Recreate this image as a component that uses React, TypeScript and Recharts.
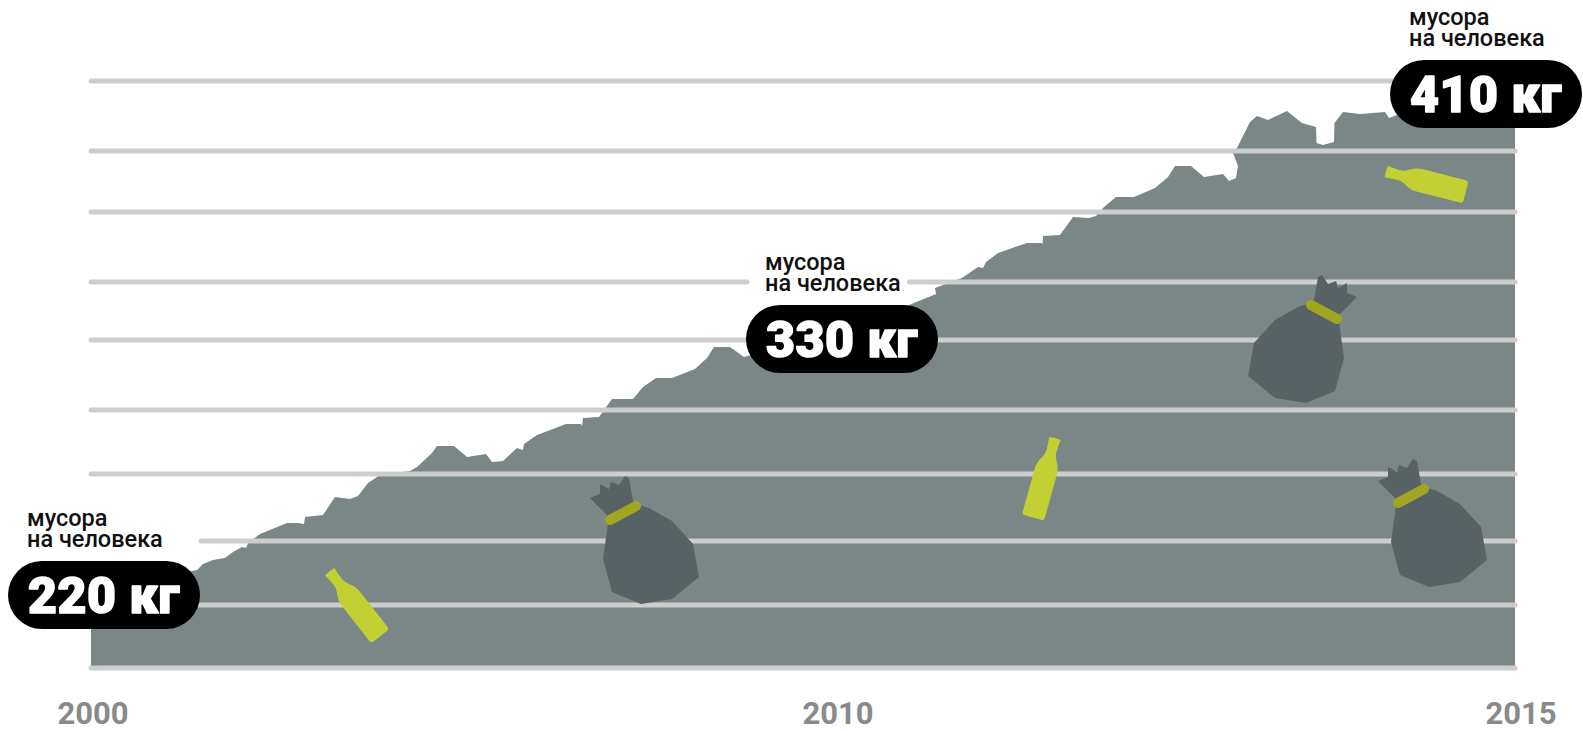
import React from "react";
import { AreaChart, Area, XAxis, YAxis, ReferenceLine, ReferenceDot } from "recharts";

// Position along the (non-uniform) time axis, and kilograms of waste per person.
const positions = [0,106,112,122,134,142,151,155,157,169,196,207,213,214,232,244,259,267,277,289,319,326,341,346,363,376,395,401,412,426,432,433,446,462,475,490,491,492,508,521,542,552,565,581,604,616,623,639,653,679,749,818,845,844,871,887,892,895,907,936,951,951.5,952,969,982,998,1005,1013,1025,1043,1064,1077,1084,1100,1113,1132,1138,1145,1147,1142,1146,1159,1166,1177,1196,1211,1225,1225.5,1232,1243,1243.5,1252,1269,1294,1298,1306,1359,1424];
const kilograms = [211.2,219.2,221.6,223.2,224,226.4,228.4,228,230,233.6,238,238,237.6,240.4,241.2,248.4,247.6,248.8,254,257.2,258.8,260.4,266,268.8,268.8,264.4,265.6,262.4,262.8,268,267.2,269.6,273.2,275.6,277.6,277.6,276.8,280,280.4,287.6,287.6,292.4,296,296,299.6,304,308.4,308.4,304.4,307.2,315.2,325.2,329.6,332,336,340.4,340,342.4,346,350,350,349.2,352.8,353.2,360.4,360,360.8,364.4,368.4,368.4,372,376.4,380.8,380.8,376.4,377.6,374.8,376,380.8,386,388,398.4,400.8,399.2,402.8,398,396.4,390,389.2,390.4,398,402.4,401.6,402.4,400,401.2,404,407.2];

const gridLevels = [414.8, 386.8, 362.4, 311.2, 283.2, 257.6, 205.2, 180];
const brokenLevelA = 334.4;
const brokenLevelB = 230.8;

const tickPositions = [2, 747, 1424];
const tickLabels = ["2000", "2010", "2015"];

const calloutPositions = [13, 751, 1395];
const calloutLevels = [209.2, 311.6, 409.6];
const calloutValues = ["220 кг", "330 кг", "410 кг"];
const calloutLine1 = "мусора";
const calloutLine2 = "на человека";

const bagPositions = [556, 1344, 1209];
const bagLevels = [230, 236.8, 310.4];
const bagFlip = [1, 1, -1];

const bottlePositions = [264, 1335, 953];
const bottleLevels = [205.6, 374.4, 256];
const bottleAngles = [-38, -75.6, 15.5];

const AREA = "#7b8787";
const GRID = "#cdcdcd";
const BAG = "#586164";
const BAND = "#a0a622";
const BOTTLE = "#c2d034";
const FONT = "Roboto, sans-serif";

const data = positions.map((pos, i) => ({ pos, kg: kilograms[i] }));

const BAG_PATH =
  "M-57,-45 L-47,-49 L-47,-59 L-38,-54 L-36,-61 L-28,-58 L-22,-67 L-18,-65 L-14,-42 L-8,-38 L2,-35 L25,-22 L46,1 L52,34 L25,56 L-6,61 L-35,49 L-44,16 L-39,-20 L-40,-28 Z";
const BOTTLE_PATH =
  "M-6,-41 Q0,-42 6,-41 L5.5,-36 L5,-28 C5,-20 11.5,-17 11.5,-7 L11.5,38 Q11.5,41 8.5,41 L-8.5,41 Q-11.5,41 -11.5,38 L-11.5,-7 C-11.5,-17 -5,-20 -5,-28 L-5.5,-36 Z";

const Bag = ({ cx, cy, flip }: any) => (
  <g transform={`translate(${cx},${cy}) scale(${flip},1)`}>
    <path d={BAG_PATH} fill={BAG} />
    <line x1={-37} y1={-23} x2={-11} y2={-37} stroke={BAND} strokeWidth={10} strokeLinecap="round" />
  </g>
);

const Bottle = ({ cx, cy, angle }: any) => (
  <path d={BOTTLE_PATH} fill={BOTTLE} transform={`translate(${cx},${cy}) rotate(${angle})`} />
);

const Callout = ({ cx, cy, value }: any) => (
  <g transform={`translate(${cx},${cy})`}>
    <text x={-77} y={-69} fontFamily={FONT} fontWeight={500} fontSize={23.5} fill="#111">{calloutLine1}</text>
    <text x={-77} y={-48} fontFamily={FONT} fontWeight={500} fontSize={23.5} fill="#111">{calloutLine2}</text>
    <rect x={-96} y={-34} width={192} height={68} rx={34} ry={34} fill="#000" />
    <text x={0} y={18} textAnchor="middle" fontFamily={FONT} fontWeight={900} fontSize={50} letterSpacing={0.5} fill="#fff" stroke="#fff" strokeWidth={1.5} strokeLinejoin="round">{value}</text>
  </g>
);

const YearTick = ({ x, payload }: any) => (
  <text
    x={x + (payload.value === tickPositions[2] ? 6 : 0)}
    y={724}
    textAnchor="middle"
    fontFamily={FONT}
    fontWeight={700}
    fontSize={31}
    fill="#8a8a8a"
  >
    {tickLabels[tickPositions.indexOf(payload.value)]}
  </text>
);

const lineProps = { stroke: GRID, strokeWidth: 5, strokeLinecap: "round" as const };

export default function App() {
  return (
    <div style={{ position: "absolute", left: 0, top: 0, width: 1583, height: 731, background: "#fff" }}>
      <AreaChart width={1583} height={731} data={data} margin={{ top: 18, right: 68, bottom: 0, left: 91 }}>
        <XAxis
          dataKey="pos"
          type="number"
          domain={[0, 1424]}
          ticks={tickPositions}
          interval={0}
          height={63}
          axisLine={false}
          tickLine={false}
          tick={YearTick}
        />
        <YAxis hide domain={[180, 440]} />
        <Area dataKey="kg" type="linear" fill={AREA} fillOpacity={1} stroke="none" isAnimationActive={false} />
        {gridLevels.map((y) => (
          <ReferenceLine key={y} y={y} {...lineProps} />
        ))}
        <ReferenceLine segment={[{ x: 0, y: brokenLevelA }, { x: 656, y: brokenLevelA }]} {...lineProps} />
        <ReferenceLine segment={[{ x: 818.5, y: brokenLevelA }, { x: 1424, y: brokenLevelA }]} {...lineProps} />
        <ReferenceLine segment={[{ x: 110, y: brokenLevelB }, { x: 1424, y: brokenLevelB }]} {...lineProps} />
        {bagPositions.map((x, i) => (
          <ReferenceDot key={`bag${i}`} x={x} y={bagLevels[i]} r={1} shape={(p: any) => <Bag {...p} flip={bagFlip[i]} />} />
        ))}
        {bottlePositions.map((x, i) => (
          <ReferenceDot key={`bottle${i}`} x={x} y={bottleLevels[i]} r={1} shape={(p: any) => <Bottle {...p} angle={bottleAngles[i]} />} />
        ))}
        {calloutPositions.map((x, i) => (
          <ReferenceDot key={`callout${i}`} x={x} y={calloutLevels[i]} r={1} shape={(p: any) => <Callout {...p} value={calloutValues[i]} />} />
        ))}
      </AreaChart>
    </div>
  );
}
